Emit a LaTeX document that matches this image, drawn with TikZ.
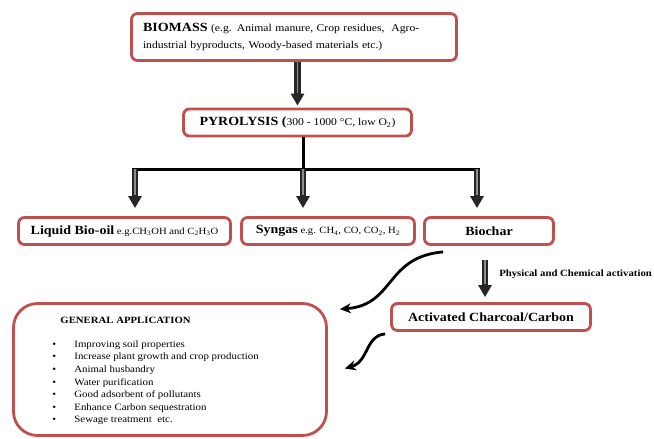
\documentclass[tikz,border=0pt]{standalone}
\usepackage{fontspec}
\setmainfont{Liberation Serif}[FakeStretch=1.12]
\usetikzlibrary{arrows.meta}
\definecolor{boxred}{RGB}{192,80,77}
\newcommand\headtxt{\fontsize{12.5}{15}\selectfont\bfseries}
\newcommand\normtxt{\fontsize{10.4}{16.5}\selectfont}
\newcommand\gastxt{\fontsize{9.5}{11}\selectfont}
\newcommand\listtxt{\fontsize{9.7}{12.6}\selectfont}

\begin{document}
\begin{tikzpicture}[x=1pt,y=-1pt,thick,
    box/.style={draw=boxred,line width=2.8pt,rounded corners=6pt,inner sep=0pt,minimum height=27pt},
    block arrow/.style={draw=black!85,line width=6.5pt,-{Triangle[width=13pt,length=12pt]},shorten >=#1,
      postaction={draw=black!45,line width=1.8pt,-,shorten >=#1+13pt}},
    block arrow/.default=8pt,
    bend arrow/.style={line width=2.8pt,-{Stealth[length=11pt,width=10pt]}}]
  \useasboundingbox (0,0) rectangle (654,439);

  \node[box,minimum width=325pt,minimum height=47pt,text width=302pt,inner xsep=11.5pt,align=left,font=\normtxt] (biomass) at (294,37)
    {{\headtxt BIOMASS} (e.g. Animal manure, Crop residues,\ \ Agro-\\industrial byproducts, Woody-based materials etc.)};
  \node[box,minimum width=228pt,font=\normtxt] (pyro) at (297.5,122.5)
    {{\headtxt PYROLYSIS (}300 - 1000 °C, low O\textsubscript{2})};
  \node[box,minimum width=212pt,font=\gastxt] (oil) at (124.5,231)
    {{\headtxt Liquid Bio-oil} e.g.CH\textsubscript{3}OH and C\textsubscript{2}H\textsubscript{3}O};
  \node[box,minimum width=173pt,font=\gastxt] (syngas) at (328,231)
    {{\headtxt Syngas} e.g. CH\textsubscript{4}, CO, CO\textsubscript{2}, H\textsubscript{2}};
  \node[box,minimum width=129pt,font=\headtxt] (biochar) at (489,231) {Biochar};
  \node[box,minimum width=199pt,font=\headtxt] (activated) at (491,317) {Activated Charcoal/Carbon};
  \node[box,minimum width=313pt,minimum height=132pt,rounded corners=24pt] (app) at (170,369.5) {};
  \node[anchor=west,inner sep=0pt,font=\fontsize{9.6}{11}\selectfont\bfseries] (apptitle) at (60,320) {GENERAL APPLICATION};
  \node[anchor=north west,inner sep=0pt,font=\listtxt] (applist) at (52,338)
    {\begin{tabular}{@{}p{22pt}@{}l@{}}
      \textbullet & Improving soil properties\\
      \textbullet & Increase plant growth and crop production\\
      \textbullet & Animal husbandry\\
      \textbullet & Water purification\\
      \textbullet & Good adsorbent of pollutants\\
      \textbullet & Enhance Carbon\ sequestration\\
      \textbullet & Sewage treatment\ \ etc.
    \end{tabular}};

  % branching below pyrolysis
  \coordinate (split) at (303,169);
  \coordinate (b1) at (135,169);
  \coordinate (b3) at (477,169);
  \draw[line width=3pt] (pyro.south -| split) -- (split);
  \draw[line width=3pt] ([xshift=-3pt]b1) -- ([xshift=3pt]b3);

  \draw[block arrow=2pt] (biomass.south -| pyro.north) -- (pyro.north);
  \draw[block arrow] (b1) -- (b1 |- oil.north);
  \draw[block arrow] (split) -- (split |- syngas.north);
  \draw[block arrow] (b3) -- (b3 |- biochar.north);
  \draw[block arrow=5pt,shorten <=14pt] ([xshift=-4pt]biochar.south) -- ([xshift=-4pt]biochar.south |- activated.north)
    node[midway,right=11pt,inner sep=0pt,font=\fontsize{9.6}{11}\selectfont\bfseries] (actlabel) {Physical and Chemical activation};

  \draw[bend arrow] ([shift={(20,6)}]biochar.south west) .. controls +(-58,5) and +(55,-4) .. ([shift={(12,7)}]app.north east);
  \draw[bend arrow] ([shift={(-5,2)}]activated.south west) .. controls +(-20,2) and +(24,-7) .. ([shift={(17,-1)}]app.east);
\end{tikzpicture}
\end{document}
